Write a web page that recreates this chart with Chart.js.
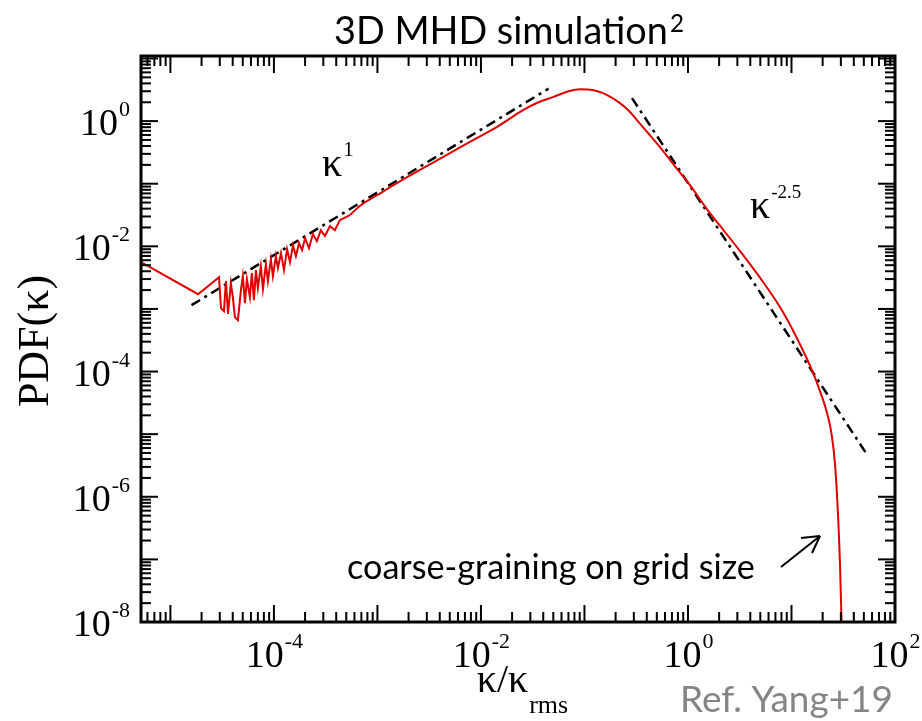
<!DOCTYPE html>
<html>
<head>
<meta charset="utf-8">
<script src="https://cdn.jsdelivr.net/npm/chart.js@4.4.1/dist/chart.umd.min.js"></script>
<style>
  html, body { margin: 0; padding: 0; background: #fff; }
</style>
</head>
<body>
<canvas id="pdfChart" width="922" height="721"></canvas>
<script>
// ---------- data (kappa / kappa_rms vs PDF)

// low-kappa part, noisy
const kappaNoisy = [
  5.2e-6, 1.85e-5, 2.95e-5,
  3.08e-5, 3.29e-5, 3.44e-5, 3.60e-5, 3.84e-5, 4.02e-5, 4.20e-5, 4.49e-5, 4.80e-5, 5.01e-5,
  5.25e-5, 5.48e-5, 5.86e-5, 6.12e-5, 6.41e-5, 6.70e-5, 7.00e-5, 7.48e-5, 7.83e-5, 8.37e-5,
  8.75e-5, 9.35e-5, 9.78e-5, 1.045e-4, 1.093e-4, 1.17e-4, 1.25e-4, 1.34e-4, 1.43e-4, 1.53e-4,
  1.63e-4, 1.75e-4, 1.87e-4, 2.0e-4, 2.18e-4, 2.38e-4, 2.60e-4, 2.84e-4, 3.11e-4, 3.48e-4,
  3.88e-4, 4.34e-4, 5.42e-4
];

const pdfNoisy = [
  5.6e-3, 1.72e-3, 3.2e-3,
  1.03e-3, 9.2e-4, 2.78e-3, 8.3e-4, 2.58e-3, 1.49e-3, 7.4e-4, 6.6e-4, 2.0e-3, 3.34e-3,
  1.24e-3, 2.99e-3, 1.54e-3, 3.73e-3, 1.38e-3, 4.17e-3, 2.15e-3, 4.83e-3, 2.07e-3, 5.2e-3,
  2.78e-3, 6.25e-3, 3.34e-3, 6.97e-3, 4.49e-3, 7.79e-3, 4.17e-3, 9.0e-3, 5.6e-3, 1.045e-2,
  6.97e-3, 1.125e-2, 8.7e-3, 1.35e-2, 9.35e-3, 1.57e-2, 1.21e-2, 1.81e-2, 1.46e-2, 2.10e-2,
  1.81e-2, 2.62e-2, 3.15e-2
];

// rest of the curve, smooth
const kappaSmooth = [
  5.42e-4, 6.8e-4, 1.0e-3, 1.93e-3, 4.0e-3, 8.4e-3, 1.5e-2, 2.55e-2, 3.6e-2, 4.96e-2,
  6.8e-2, 9.05e-2, 0.12, 0.151, 0.185, 0.22, 0.27, 0.321, 0.42, 0.536, 0.75, 1.045,
  1.53, 2.2, 3.18, 5.0, 7.74, 11.3, 16.1, 19.0, 22.0, 24.5, 26.3, 28.1, 29.4, 30.8
];

const pdfSmooth = [
  3.15e-2, 4.45e-2, 6.6e-2, 0.127, 0.25, 0.497, 0.85, 1.5, 2.0, 2.42,
  2.95, 3.24, 3.15, 2.8, 2.35, 1.94, 1.45, 1.04, 0.62, 0.385, 0.19, 0.095,
  0.039, 0.0182, 8.4e-3, 3.1e-3, 1.07e-3, 3.4e-4, 9.7e-5, 4.7e-5, 2.2e-5, 9.6e-6, 3.4e-6, 5.5e-7, 8.7e-8, 5e-9
];

// power-law guide lines (end points)
const slopeOneX = [1.6e-5, 4.5e-2];
const slopeOneY = [1.15e-3, 3.3];
const slopeSteepX = [0.288, 52.5];
const slopeSteepY = [2.33, 5.0e-6];

// labelled decades
const xTickExp = [-4, -2, 0, 2];
const yTickExp = [0, -2, -4, -6, -8];

const toPoints = (xs, ys) => xs.map((v, i) => ({ x: v, y: ys[i] }));

const SERIF = "'Liberation Serif', 'Times New Roman', serif";
const SANS = "Lato, 'Noto Sans', sans-serif";
const RED = '#e00000';


// ---------- frame, inward ticks, labels and notes

function fitFont(ctx, text, family, width) {
  ctx.font = '100px ' + family;
  return 100 * width / ctx.measureText(text).width;
}

function drawPow(ctx, base, exp, x, y, size, supSize, align) {
  ctx.font = size + 'px ' + SERIF;
  const wb = ctx.measureText(base).width;
  ctx.font = supSize + 'px ' + SERIF;
  const we = ctx.measureText(exp).width;
  let left = x;
  if (align === 'center') left = x - (wb + we) / 2;
  if (align === 'right') left = x - wb - we;
  ctx.textAlign = 'left';
  ctx.textBaseline = 'alphabetic';
  ctx.font = size + 'px ' + SERIF;
  ctx.fillText(base, left, y);
  ctx.font = supSize + 'px ' + SERIF;
  ctx.fillText(exp, left + wb + 1, y - size * 0.5);
}

const axisDecor = {
  id: 'axisDecor',
  afterDatasetsDraw(chart) {
    const { ctx, chartArea: a, scales: { x, y } } = chart;
    ctx.save();
    ctx.strokeStyle = '#000';
    ctx.fillStyle = '#000';
    ctx.lineCap = 'butt';

    const seg = (x1, y1, x2, y2) => {
      ctx.beginPath(); ctx.moveTo(x1, y1); ctx.lineTo(x2, y2); ctx.stroke();
    };

    // ticks (minor at 2..9, major at decades), on all four sides
    ctx.lineWidth = 2;
    for (let e = -9; e <= 2; e++) {
      for (let m = 1; m <= 9; m++) {
        const v = m * Math.pow(10, e);
        const len = m === 1 ? 17 : 10;
        if (v >= x.min * 0.999 && v <= x.max * 1.001) {
          const p = x.getPixelForValue(v);
          seg(p, a.bottom, p, a.bottom - len);
          seg(p, a.top, p, a.top + len);
        }
        if (v >= y.min * 0.999 && v <= y.max * 1.001) {
          const p = y.getPixelForValue(v);
          seg(a.left, p, a.left + len, p);
          seg(a.right, p, a.right - len, p);
        }
      }
    }

    // frame
    ctx.lineWidth = 3;
    ctx.strokeRect(a.left, a.top, a.right - a.left, a.bottom - a.top);

    // tick labels
    xTickExp.forEach(e => {
      drawPow(ctx, '10', String(e), x.getPixelForValue(Math.pow(10, e)), a.bottom + 45, 38, 22, 'center');
    });
    yTickExp.forEach(e => {
      drawPow(ctx, '10', String(e), a.left - 12, y.getPixelForValue(Math.pow(10, e)) + 14, 38, 22, 'right');
    });

    // axis titles
    ctx.font = '44px ' + SERIF;
    ctx.save();
    ctx.translate(48, 341);
    ctx.rotate(-Math.PI / 2);
    ctx.textAlign = 'center';
    ctx.fillText('PDF(\u03BA)', 0, 0);
    ctx.restore();

    ctx.textAlign = 'left';
    ctx.font = '40px ' + SERIF;
    const k1 = '\u03BA/\u03BA';
    const wk = ctx.measureText(k1).width;
    ctx.font = '26px ' + SERIF;
    const wr = ctx.measureText('rms').width;
    const xl = 522 - (wk + wr) / 2;
    ctx.font = '40px ' + SERIF;
    ctx.fillText(k1, xl, 692);
    ctx.font = '26px ' + SERIF;
    ctx.fillText('rms', xl + wk + 1, 713);

    // power-law notes
    drawPow(ctx, '\u03BA', '1', 322, 176, 40, 21, 'left');
    drawPow(ctx, '\u03BA', '-2.5', 750, 218, 40, 19, 'left');

    // title
    const title = '3D MHD simulation';
    const ts = fitFont(ctx, title, SANS, 334);
    ctx.font = ts + 'px ' + SANS;
    ctx.fillText(title, 334, 44);
    ctx.font = (ts * 0.64) + 'px ' + SANS;
    ctx.fillText('2', 670, 32);

    // annotation
    const note = 'coarse-graining on grid size';
    ctx.font = fitFont(ctx, note, SANS, 408) + 'px ' + SANS;
    ctx.fillText(note, 347, 579);

    ctx.lineWidth = 2;
    seg(781, 567, 820, 536);
    seg(820, 536, 801, 538);
    seg(820, 536, 812, 553);

    // reference
    const ref = 'Ref. Yang+19';
    ctx.fillStyle = '#858585';
    ctx.font = fitFont(ctx, ref, SANS, 213) + 'px ' + SANS;
    ctx.fillText(ref, 680, 712);

    ctx.restore();
  }
};


// ---------- chart

const pdfChart = new Chart(document.getElementById('pdfChart'), {
  type: 'scatter',
  data: {
    datasets: [
      {
        label: 'PDF (noisy)',
        data: toPoints(kappaNoisy, pdfNoisy),
        showLine: true,
        borderColor: RED,
        borderWidth: 2,
        pointRadius: 0,
        tension: 0
      },
      {
        label: 'PDF',
        data: toPoints(kappaSmooth, pdfSmooth),
        showLine: true,
        borderColor: RED,
        borderWidth: 2,
        pointRadius: 0,
        cubicInterpolationMode: 'monotone'
      },
      {
        label: 'kappa^1',
        data: toPoints(slopeOneX, slopeOneY),
        showLine: true,
        borderColor: '#000',
        borderWidth: 2.5,
        borderDash: [10, 5, 3, 5],
        pointRadius: 0
      },
      {
        label: 'kappa^-2.5',
        data: toPoints(slopeSteepX, slopeSteepY),
        showLine: true,
        borderColor: '#000',
        borderWidth: 2.5,
        borderDash: [10, 5, 3, 5],
        pointRadius: 0
      }
    ]
  },
  options: {
    responsive: false,
    animation: false,
    devicePixelRatio: 1,
    layout: { padding: { left: 141, right: 27, top: 56, bottom: 99 } },
    plugins: {
      legend: { display: false },
      tooltip: { enabled: false }
    },
    scales: {
      x: { type: 'logarithmic', min: 5.2e-6, max: 100, display: false },
      y: { type: 'logarithmic', min: 1e-8, max: 10.96, display: false }
    }
  },
  plugins: [axisDecor]
});
</script>
</body>
</html>
